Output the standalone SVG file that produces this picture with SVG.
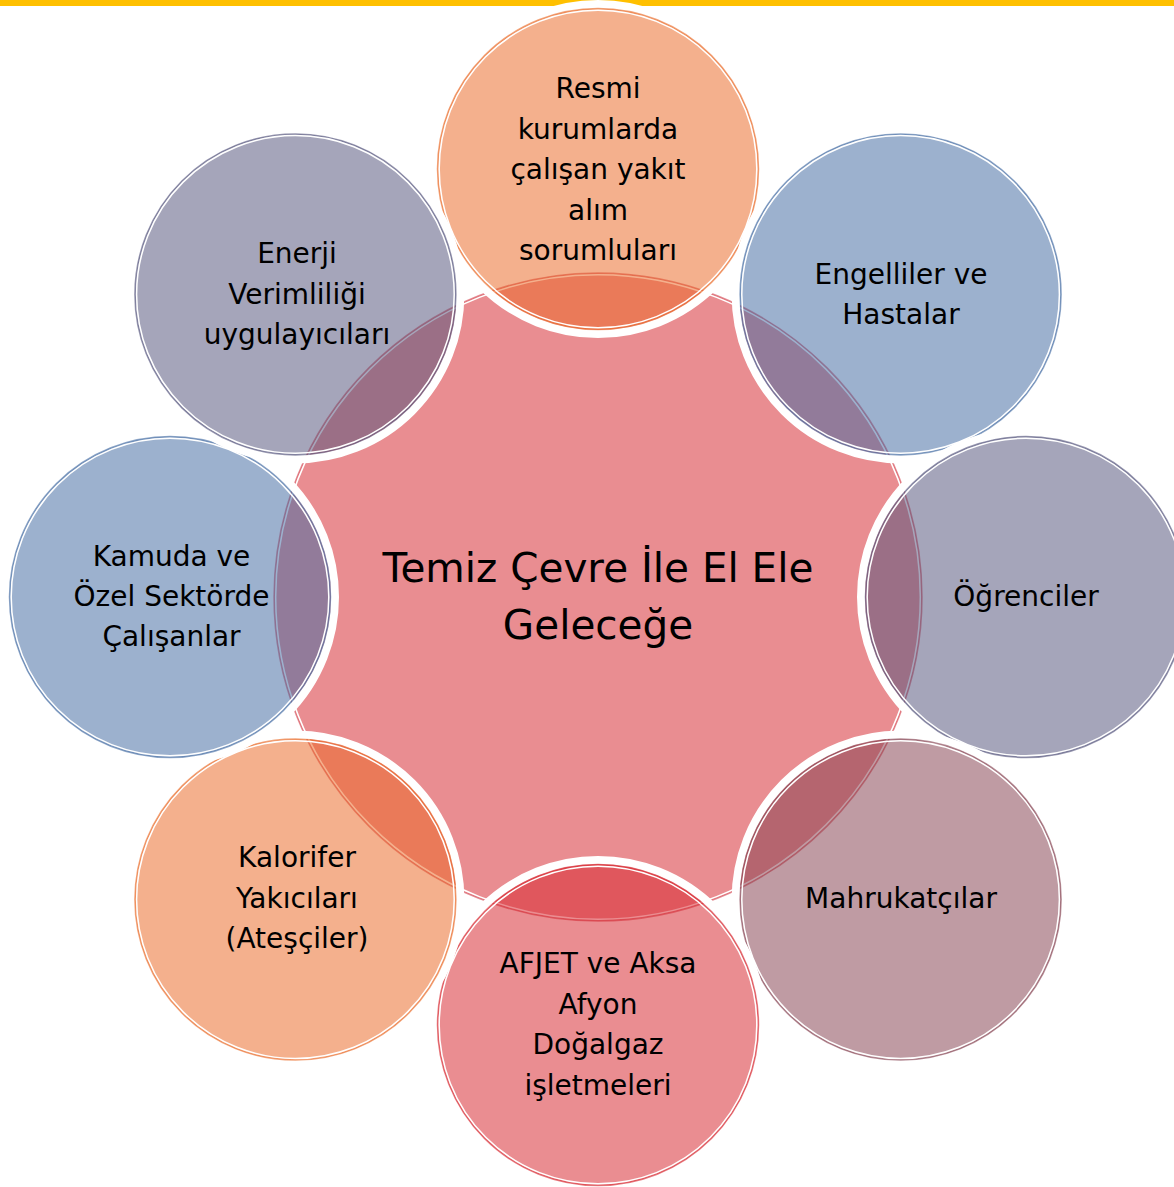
<svg xmlns="http://www.w3.org/2000/svg" width="1174" height="1187" viewBox="0 0 1174 1187">
<style>
.glow{fill:none;stroke:#fff;stroke-width:8}
.fill{fill-opacity:.53;stroke:none}
.ring{fill:none;stroke-width:1.5;stroke-opacity:.6}
.inner{fill:none;stroke:#fff;stroke-width:1.5}
.lbl{font-family:"DejaVu Sans",Verdana,sans-serif;font-size:28px;text-anchor:middle;fill:#000}
.big{font-family:"DejaVu Sans",Verdana,sans-serif;font-size:40.5px;text-anchor:middle;fill:#000}
.of{fill:#EA6A28}.os{stroke:#EA6A28}
.bf{fill:#446CA3}.bs{stroke:#446CA3}
.gf{fill:#55557D}.gs{stroke:#55557D}
.mf{fill:#864251}.ms{stroke:#864251}
.pf{fill:#D72830}.ps{stroke:#D72830}
</style>
<rect x="0" y="0" width="1174" height="1187" fill="#fff"/>
<rect x="0" y="0" width="1174" height="6" fill="#FFC000"/>

<g id="center">
  <circle class="glow" cx="598" cy="597" r="328.5"/>
  <circle cx="598" cy="597" r="324" fill="#E98D91"/>
  <circle cx="598" cy="597" r="324" fill="none" stroke="#D9606A" stroke-width="1.5" stroke-opacity=".7"/>
  <circle class="inner" cx="598" cy="597" r="322.3"/>
  <text class="big" x="598" y="582">Temiz Çevre İle El Ele</text>
  <text class="big" x="598" y="639">Geleceğe</text>
</g>

<g id="n-top">
  <circle class="glow" cx="598" cy="169" r="165"/>
  <circle class="fill of" cx="598" cy="169" r="160.5"/>
  <circle class="ring os" cx="598" cy="169" r="160.5"/>
  <circle class="inner" cx="598" cy="169" r="158.8"/>
  <text class="lbl" x="598" y="98">Resmi</text>
  <text class="lbl" x="598" y="138.5">kurumlarda</text>
  <text class="lbl" x="598" y="179">çalışan yakıt</text>
  <text class="lbl" x="598" y="219.5">alım</text>
  <text class="lbl" x="598" y="260">sorumluları</text>
</g>

<g id="n-top-right">
  <circle class="glow" cx="900.6" cy="294.4" r="165"/>
  <circle class="fill bf" cx="900.6" cy="294.4" r="160.5"/>
  <circle class="ring bs" cx="900.6" cy="294.4" r="160.5"/>
  <circle class="inner" cx="900.6" cy="294.4" r="158.8"/>
  <text class="lbl" x="901" y="284">Engelliler ve</text>
  <text class="lbl" x="901" y="324">Hastalar</text>
</g>

<g id="n-right">
  <circle class="glow" cx="1026" cy="597" r="165"/>
  <circle class="fill gf" cx="1026" cy="597" r="160.5"/>
  <circle class="ring gs" cx="1026" cy="597" r="160.5"/>
  <circle class="inner" cx="1026" cy="597" r="158.8"/>
  <text class="lbl" x="1026" y="606">Öğrenciler</text>
</g>

<g id="n-bottom-right">
  <circle class="glow" cx="900.6" cy="899.6" r="165"/>
  <circle class="fill mf" cx="900.6" cy="899.6" r="160.5"/>
  <circle class="ring ms" cx="900.6" cy="899.6" r="160.5"/>
  <circle class="inner" cx="900.6" cy="899.6" r="158.8"/>
  <text class="lbl" x="901" y="908">Mahrukatçılar</text>
</g>

<g id="n-bottom">
  <circle class="glow" cx="598" cy="1025" r="165"/>
  <circle class="fill pf" cx="598" cy="1025" r="160.5"/>
  <circle class="ring ps" cx="598" cy="1025" r="160.5"/>
  <circle class="inner" cx="598" cy="1025" r="158.8"/>
  <text class="lbl" x="598" y="973">AFJET ve Aksa</text>
  <text class="lbl" x="598" y="1013.5">Afyon</text>
  <text class="lbl" x="598" y="1054">Doğalgaz</text>
  <text class="lbl" x="598" y="1094.5">işletmeleri</text>
</g>

<g id="n-bottom-left">
  <circle class="glow" cx="295.4" cy="899.6" r="165"/>
  <circle class="fill of" cx="295.4" cy="899.6" r="160.5"/>
  <circle class="ring os" cx="295.4" cy="899.6" r="160.5"/>
  <circle class="inner" cx="295.4" cy="899.6" r="158.8"/>
  <text class="lbl" x="297" y="867">Kalorifer</text>
  <text class="lbl" x="297" y="907.5">Yakıcıları</text>
  <text class="lbl" x="297" y="948">(Ateşçiler)</text>
</g>

<g id="n-left">
  <circle class="glow" cx="170" cy="597" r="165"/>
  <circle class="fill bf" cx="170" cy="597" r="160.5"/>
  <circle class="ring bs" cx="170" cy="597" r="160.5"/>
  <circle class="inner" cx="170" cy="597" r="158.8"/>
  <text class="lbl" x="171.5" y="566">Kamuda ve</text>
  <text class="lbl" x="171.5" y="606">Özel Sektörde</text>
  <text class="lbl" x="171.5" y="646">Çalışanlar</text>
</g>

<g id="n-top-left">
  <circle class="glow" cx="295.4" cy="294.4" r="165"/>
  <circle class="fill gf" cx="295.4" cy="294.4" r="160.5"/>
  <circle class="ring gs" cx="295.4" cy="294.4" r="160.5"/>
  <circle class="inner" cx="295.4" cy="294.4" r="158.8"/>
  <text class="lbl" x="297" y="263">Enerji</text>
  <text class="lbl" x="297" y="303.5">Verimliliği</text>
  <text class="lbl" x="297" y="344">uygulayıcıları</text>
</g>
</svg>
